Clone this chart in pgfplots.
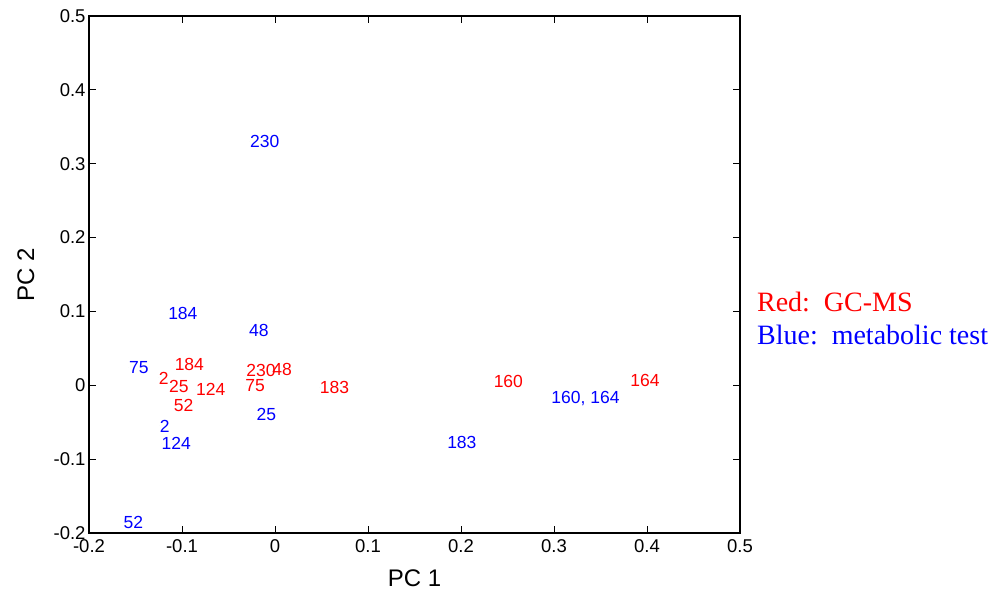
\documentclass[border=0pt]{standalone}
\usepackage{fontspec}
\setmainfont{Liberation Sans}
\newfontfamily\timesfont{Liberation Serif}
\usepackage{pgfplots}
\pgfplotsset{compat=1.18}
\newcommand{\tf}{\fontsize{18.5bp}{22bp}\selectfont}

\begin{document}
\begin{tikzpicture}
\useasboundingbox (0,0) rectangle (995bp,597bp);
\begin{axis}[
  at={(89bp,64bp)}, anchor=south west,
  scale only axis, width=651bp, height=517bp,
  xmin=-0.2, xmax=0.5, ymin=-0.2, ymax=0.5,
  xtick={-0.2,-0.1,0,0.1,0.2,0.3,0.4,0.5},
  xticklabels={{\tf -0.2},{\tf -0.1},{\tf 0},{\tf 0.1},{\tf 0.2},{\tf 0.3},{\tf 0.4},{\tf 0.5}},
  ytick={-0.2,-0.1,0,0.1,0.2,0.3,0.4,0.5},
  yticklabels={{\tf -0.2},{\tf -0.1},{\tf 0},{\tf 0.1},{\tf 0.2},{\tf 0.3},{\tf 0.4},{\tf 0.5}},
  tick align=inside, major tick length=7bp,
  tick style={black, line width=0.8bp},
  axis line style={line width=1.2bp},
  xticklabel style={yshift=-3bp},
  xlabel={PC 1}, ylabel={PC 2},
  label style={font=\fontsize{24bp}{28bp}\selectfont},
  xlabel style={at={(axis description cs:0.5,-0.087)}, anchor=center},
  ylabel style={at={(axis description cs:-0.097,0.5)}, anchor=center},
  clip=false,
  every node near coord/.append style={anchor=west, inner sep=0pt, font=\fontsize{17.5bp}{20bp}\selectfont},
]
% blue: metabolic test
\addplot[only marks, mark=*, mark size=0pt, mark options={draw=none, fill=none},
  nodes near coords, point meta=explicit symbolic,
  every node near coord/.append style={text=blue}]
  table[meta=l, col sep=semicolon, row sep=\\] {
x;y;l\\
-0.027;0.330;230\\
-0.115;0.097;184\\
-0.028;0.074;48\\
-0.157;0.024;75\\
-0.020;-0.039;25\\
-0.124;-0.055;2\\
-0.122;-0.079;124\\
-0.163;-0.186;52\\
0.185;-0.078;183\\
0.297;-0.018;160, 164\\
};
% red: GC-MS
\addplot[only marks, mark=*, mark size=0pt, mark options={draw=none, fill=none},
  nodes near coords, point meta=explicit symbolic,
  every node near coord/.append style={text=red}]
  table[meta=l, col sep=semicolon, row sep=\\] {
x;y;l\\
-0.108;0.028;184\\
-0.125;0.010;2\\
-0.114;-0.001;25\\
-0.085;-0.006;124\\
-0.109;-0.028;52\\
-0.031;0.020;230\\
-0.003;0.022;48\\
-0.032;0.000;75\\
0.048;-0.003;183\\
0.235;0.005;160\\
0.382;0.006;164\\
};
\node[anchor=west, inner sep=0pt, text=red, font=\timesfont\fontsize{28bp}{32bp}\selectfont]
  at (axis description cs:1.026,0.447) {Red:\ \ GC-MS};
\node[anchor=west, inner sep=0pt, text=blue, font=\timesfont\fontsize{28bp}{32bp}\selectfont]
  at (axis description cs:1.026,0.383) {Blue:\ \ metabolic test};
\end{axis}
\end{tikzpicture}
\end{document}
